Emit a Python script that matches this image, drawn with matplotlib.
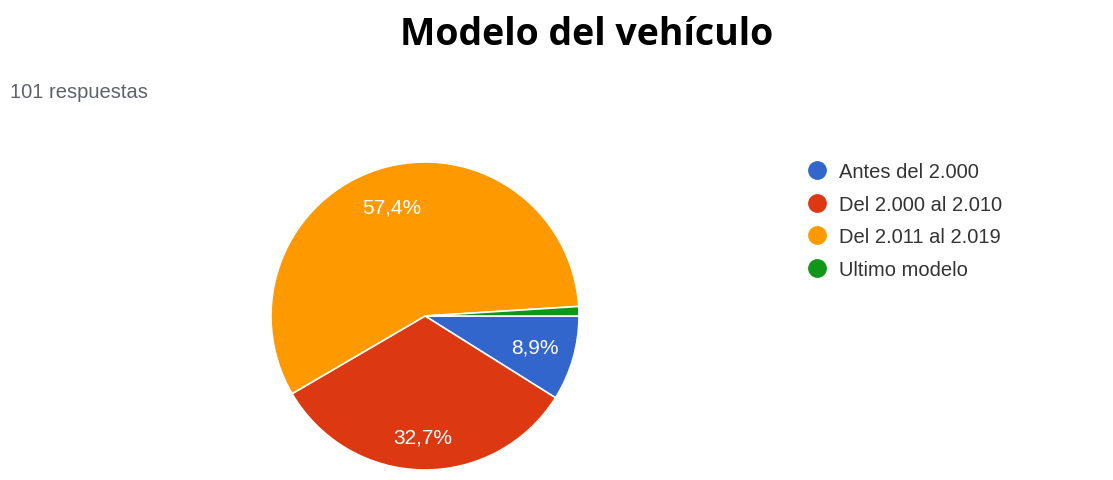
import matplotlib.pyplot as plt
from matplotlib.lines import Line2D

# Data
categories = ['Antes del 2.000', 'Del 2.000 al 2.010', 'Del 2.011 al 2.019', 'Ultimo modelo']
counts = [9, 33, 58, 1]
colors = ['#3366CC', '#DC3912', '#FF9900', '#109618']
title = 'Modelo del vehículo'
subtitle = '101 respuestas'

W, H = 1113, 481
fig = plt.figure(figsize=(W / 100, H / 100), dpi=100)
fig.patch.set_facecolor('white')

# pie axes: centre (425, 317) px from top, radius 154 px
cx, cy, r = 425, 317, 154
ax = fig.add_axes([(cx - r) / W, (H - cy - r) / H, 2 * r / W, 2 * r / H])


def pct_label(p):
    # hide tiny slices like Google Forms does
    return f'{p:.1f}%'.replace('.', ',') if p > 5 else ''


wedges, texts, autotexts = ax.pie(
    counts, colors=colors, startangle=0, counterclock=False,
    autopct=pct_label, pctdistance=0.74,
    wedgeprops=dict(edgecolor='white', linewidth=1.2),
    textprops=dict(color='white', fontsize=15, family='Liberation Sans'))
# nudge the bottom label a bit further out, as in the original
x, y = autotexts[1].get_position()
autotexts[1].set_position((x * 1.06, y * 1.06))
ax.set_xlim(-1, 1)
ax.set_ylim(-1, 1)
ax.set_aspect('equal')
ax.axis('off')

# title and response count
fig.text(587 / W, 1 - 35 / H, title, ha='center', va='center',
         fontsize=27, fontweight='bold', family='Open Sans', color='black')
fig.text(10 / W, 1 - 92 / H, subtitle, ha='left', va='center',
         fontsize=14.5, family='Liberation Sans', color='#5f6368')

# legend with circle markers
handles = [Line2D([0], [0], marker='o', linestyle='', markersize=12.5,
                  markerfacecolor=c, markeredgecolor=c) for c in colors]
leg = fig.legend(handles, categories, loc='upper left',
                 bbox_to_anchor=(807 / W, 1 - 163 / H), frameon=False,
                 prop=dict(family='Liberation Sans', size=14.5),
                 handlelength=1.0, handletextpad=0.6, labelspacing=0.68,
                 borderpad=0, borderaxespad=0)
for t in leg.get_texts():
    t.set_color('#333333')

plt.savefig('out.png', dpi=100)
